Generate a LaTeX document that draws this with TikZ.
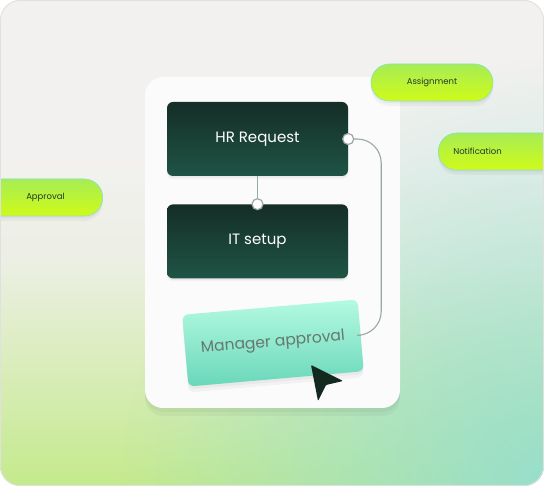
\documentclass[tikz,border=0pt]{standalone}
\usepackage{fontspec}
\setmainfont{Poppins}
\usetikzlibrary{positioning,fadings}

\definecolor{bgtop}{HTML}{F2F1EF}
\definecolor{bgmid}{HTML}{ECEFE4}
\definecolor{bglime}{HTML}{C4EA8C}
\definecolor{bgteal}{HTML}{96DECF}
\definecolor{cardfill}{HTML}{FAFBFA}
\definecolor{tasktop}{HTML}{152E27}
\definecolor{taskbot}{HTML}{1F5445}
\definecolor{mgrtop}{HTML}{B4FAE1}
\definecolor{mgrbot}{HTML}{6AD7B9}
\definecolor{mgrtext}{HTML}{66776F}
\definecolor{pilltop}{HTML}{A6EC55}
\definecolor{pillbot}{HTML}{D0FB18}
\definecolor{pilledge}{HTML}{86E2C4}
\definecolor{pilltext}{HTML}{24372C}
\definecolor{wire}{HTML}{9AA8A4}
\definecolor{cursor}{HTML}{14291F}

\tikzfading[name=glowfade, inner color=transparent!0, outer color=transparent!100]

\tikzset{
  softshadow/.style={
    preaction={fill=black, opacity=0.035, transform canvas={yshift=-#1}},
    preaction={fill=black, opacity=0.035, transform canvas={yshift=-#1*0.5}},
  },
}

\begin{document}
\begin{tikzpicture}[x=1pt, y=-1pt,
    every node/.style={font=\small},
    card/.style={fill=cardfill, rounded corners=18pt, minimum width=255pt, minimum height=331pt, softshadow=8pt},
    task/.style={rounded corners=6pt, minimum width=181pt, minimum height=74pt,
      top color=tasktop, bottom color=taskbot, text=white,
      font=\fontsize{15}{18}\selectfont, softshadow=3pt},
    mgrbox/.style={rounded corners=6pt, minimum width=176pt, minimum height=72pt,
      top color=mgrtop, bottom color=mgrbot, text=mgrtext,
      font=\fontsize{15.5}{18}\selectfont, softshadow=6pt},
    pill/.style={draw=pilledge, line width=0.6pt, rounded corners=18.5pt, minimum height=37pt,
      top color=pilltop, bottom color=pillbot, text=pilltext,
      font=\fontsize{8.5}{10}\selectfont, softshadow=5pt},
    wireline/.style={draw=wire, line width=1.1pt},
    dot/.style={circle, draw=wire, fill=white, line width=1.2pt, minimum size=11pt, inner sep=0pt},
  ]
  \useasboundingbox (0,0) rectangle (544,486);

  % background
  \begin{scope}
    \clip[rounded corners=20pt] (0,0) rectangle (544,486);
    \fill[bgtop] (0,0) rectangle (544,160);
    \shade[top color=bgtop, bottom color=bgmid] (0,160) rectangle (544,260);
    \shade[top color=bgmid, bottom color=bglime] (0,260) rectangle (544,486);
    \fill[bgteal, path fading=glowfade] (560,500) circle (440);

    % card and steps
    \node[card] (panel) at (272.5,242.5) {};
    \node[task] (hr) at (257.5,139) {HR Request};
    \node[task, below=28pt of hr] (it) {IT setup};
    \node[mgrbox, rotate=5] (mgr) at (273,343) {Manager approval};

    % connectors
    \draw[wireline] (hr.south) -- (it.north);
    \draw[wireline, rounded corners=24pt] (hr.east) -- ++(33,0) |- (mgr.east);
    \node[dot] (itdot) at (it.north) {};
    \node[dot] (hrdot) at (hr.east) {};

    % cursor
    \fill[cursor, rounded corners=1pt] (311,365) -- (343,381) -- (326,385) -- (318,401) -- cycle;

    % tags
    \node[pill, minimum width=122pt] (assign) at (432,82.5) {Assignment};
    \node[pill, anchor=west, text width=100pt, align=left, inner xsep=15pt] (notif) at (438,151.5) {Notification};
    \node[pill, anchor=east, text width=80pt, align=right, inner xsep=38pt] (approval) at (103,197.5) {Approval};
  \end{scope}
  \draw[black!12, line width=0.8pt, rounded corners=20pt] (0.4,0.4) rectangle (543.6,485.6);
\end{tikzpicture}
\end{document}
